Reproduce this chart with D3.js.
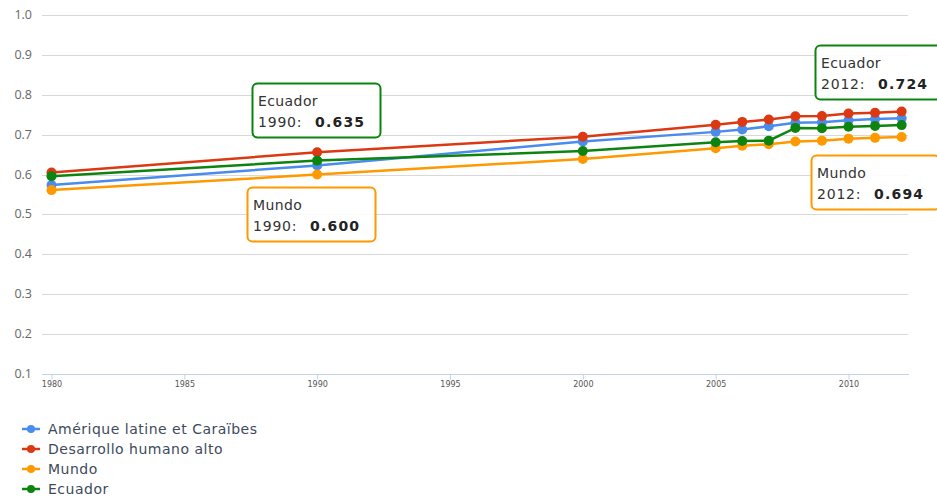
<!DOCTYPE html>
<html>
<head>
<meta charset="utf-8">
<script src="https://cdn.jsdelivr.net/npm/d3@7/dist/d3.min.js"></script>
<style>
  body { margin: 0; background: #fff; }
  svg { display: block; font-family: "Open Sans", "DejaVu Sans", sans-serif; }
</style>
</head>
<body>
<div id="chart"></div>
<script>
var width = 937, height = 502;

var years = [1980, 1990, 2000, 2005, 2006, 2007, 2008, 2009, 2010, 2011, 2012];
var seriesNames = ["Amérique latine et Caraïbes", "Desarrollo humano alto", "Mundo", "Ecuador"];
var seriesColors = ["#4a8bee", "#dc3912", "#ff9900", "#0d840f"];
var latinValues = [0.574, 0.623, 0.683, 0.707, 0.713, 0.721, 0.730, 0.731, 0.736, 0.739, 0.741];
var altoValues = [0.605, 0.656, 0.695, 0.725, 0.732, 0.738, 0.746, 0.747, 0.753, 0.755, 0.758];
var mundoValues = [0.561, 0.600, 0.639, 0.666, 0.672, 0.676, 0.683, 0.685, 0.690, 0.692, 0.694];
var ecuadorValues = [0.596, 0.635, 0.659, 0.681, 0.684, 0.685, 0.717, 0.716, 0.720, 0.722, 0.724];
var yTicks = [0.1, 0.2, 0.3, 0.4, 0.5, 0.6, 0.7, 0.8, 0.9, 1.0];
var xTicks = [1980, 1985, 1990, 1995, 2000, 2005, 2010];

// tooltips shown in the picture: series index, year
var tips = [
  { s: 3, year: 1990, x: 252, y: 83 },
  { s: 2, year: 1990, x: 247, y: 187 },
  { s: 3, year: 2012, x: 815, y: 45 },
  { s: 2, year: 2012, x: 811, y: 155 }
];

var allValues = [latinValues, altoValues, mundoValues, ecuadorValues];

var x = d3.scaleLinear().domain([1980, 2010]).range([51.5, 848.5]);
var y = d3.scaleLinear().domain([0.1, 1.0]).range([374, 15]);

var svg = d3.select("#chart").append("svg")
    .attr("width", width)
    .attr("height", height);

// grid
svg.append("g").selectAll("line")
    .data(yTicks.slice(1))
    .enter().append("line")
    .attr("x1", 42).attr("x2", 908)
    .attr("y1", function(d) { return Math.round(y(d)) + 0.5; })
    .attr("y2", function(d) { return Math.round(y(d)) + 0.5; })
    .attr("stroke", "#d8d8d8")
    .attr("stroke-width", 1);

svg.append("g").selectAll("text")
    .data(yTicks)
    .enter().append("text")
    .attr("x", 32)
    .attr("y", function(d) { return y(d) + 4; })
    .attr("text-anchor", "end")
    .attr("font-size", 12.5)
    .attr("fill", "#666")
    .text(function(d) { return d.toFixed(1); });

// x axis
var xAxis = d3.axisBottom(x)
    .tickValues(xTicks)
    .tickFormat(d3.format("d"))
    .tickSize(5)
    .tickPadding(2)
    .tickSizeOuter(0);

var gx = svg.append("g")
    .attr("transform", "translate(0," + (Math.round(y(0.1)) + 0.5) + ")")
    .call(xAxis);
gx.select(".domain").remove();
gx.insert("line", ":first-child")
    .attr("x1", 42).attr("x2", 909)
    .attr("stroke", "#c4d3e6").attr("stroke-width", 1);
gx.selectAll(".tick line").attr("stroke", "#c4d3e6");
gx.selectAll(".tick text")
    .attr("font-size", 8)
    .attr("fill", "#555")
    .attr("font-family", "\"DejaVu Sans\", sans-serif");

// lines
var line = d3.line()
    .x(function(d, i) { return x(years[i]); })
    .y(function(d) { return y(d); });

allValues.forEach(function(vals, s) {
  var g = svg.append("g");
  g.append("path")
    .datum(vals)
    .attr("d", line)
    .attr("fill", "none")
    .attr("stroke", seriesColors[s])
    .attr("stroke-width", 2.5);
  g.selectAll("circle")
    .data(vals)
    .enter().append("circle")
    .attr("cx", function(d, i) { return x(years[i]); })
    .attr("cy", function(d) { return y(d); })
    .attr("r", 5)
    .attr("fill", seriesColors[s]);
});

// tooltips
tips.forEach(function(t) {
  var v = allValues[t.s][years.indexOf(t.year)];
  var g = svg.append("g")
    .attr("transform", "translate(" + t.x + "," + t.y + ")")
    .attr("font-family", "\"DejaVu Sans\", sans-serif");
  g.append("rect")
    .attr("x", 0.5).attr("y", 0.5)
    .attr("width", 128).attr("height", 54)
    .attr("rx", 5)
    .attr("fill", "rgba(255,255,255,0.88)")
    .attr("stroke", seriesColors[t.s])
    .attr("stroke-width", 2);
  g.append("text")
    .attr("x", 6).attr("y", 23)
    .attr("font-size", 14)
    .attr("letter-spacing", 0.4)
    .attr("fill", "#333")
    .text(seriesNames[t.s]);
  g.append("text")
    .attr("x", 6).attr("y", 44)
    .attr("font-size", 14)
    .attr("letter-spacing", 0.8)
    .attr("fill", "#333")
    .text(t.year + ":");
  g.append("text")
    .attr("x", 63).attr("y", 44)
    .attr("font-size", 14)
    .attr("font-weight", "bold")
    .attr("letter-spacing", 1.2)
    .attr("fill", "#222")
    .text(v.toFixed(3));
});

// legend
var legend = svg.append("g")
    .attr("transform", "translate(22,429)")
    .attr("font-family", "\"DejaVu Sans\", sans-serif");
seriesNames.forEach(function(name, i) {
  var g = legend.append("g").attr("transform", "translate(0," + (i * 20) + ")");
  g.append("line")
    .attr("x1", 0).attr("x2", 18)
    .attr("stroke", seriesColors[i])
    .attr("stroke-width", 2.5);
  g.append("circle")
    .attr("cx", 9).attr("r", 4)
    .attr("fill", seriesColors[i]);
  g.append("text")
    .attr("x", 26).attr("y", 5)
    .attr("font-size", 14)
    .attr("letter-spacing", 0.5)
    .attr("fill", "#3e4a5c")
    .text(name);
});
</script>
</body>
</html>
